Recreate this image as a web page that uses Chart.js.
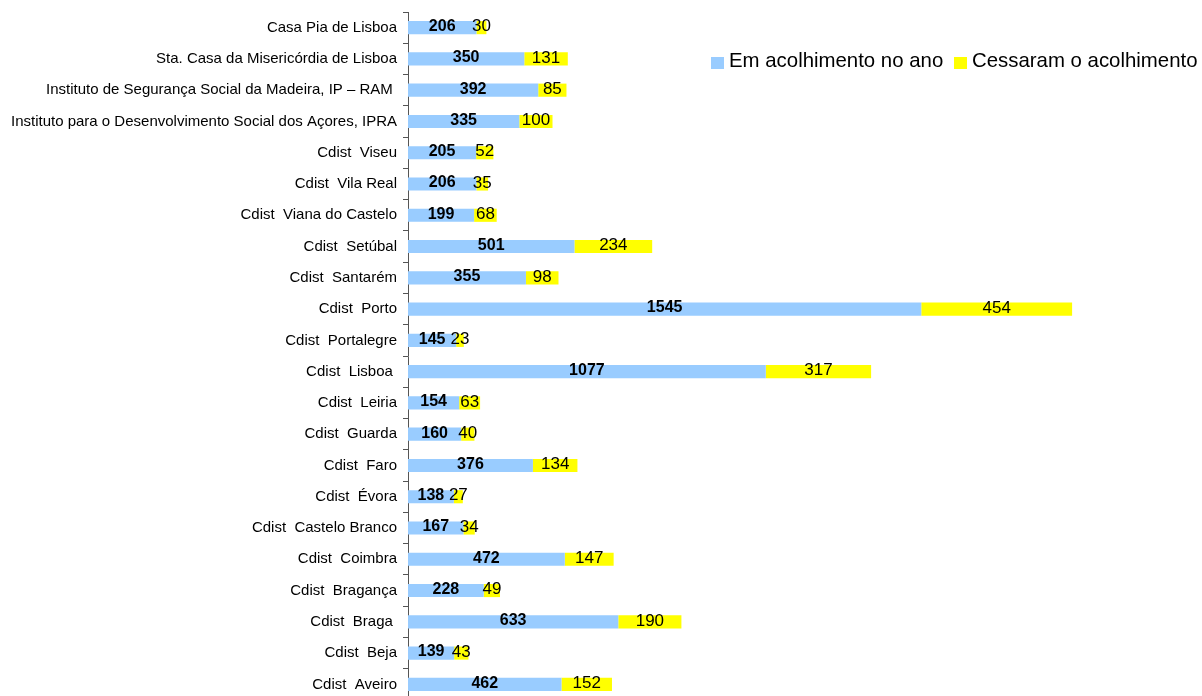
<!DOCTYPE html>
<html>
<head>
<meta charset="utf-8">
<script src="https://cdn.jsdelivr.net/npm/chart.js@4/dist/chart.umd.min.js"></script>
<style>
html,body{margin:0;padding:0;background:#fff;overflow:hidden;}
canvas{display:block;margin-top:-3px;}
</style>
</head>
<body>
<canvas id="c" width="1202" height="718"></canvas>
<script>
const categories = [
  "Casa Pia de Lisboa",
  "Sta. Casa da Misericórdia de Lisboa",
  "Instituto de Segurança Social da Madeira, IP – RAM ",
  "Instituto para o Desenvolvimento Social dos Açores, IPRA",
  "Cdist  Viseu",
  "Cdist  Vila Real",
  "Cdist  Viana do Castelo",
  "Cdist  Setúbal",
  "Cdist  Santarém",
  "Cdist  Porto",
  "Cdist  Portalegre",
  "Cdist  Lisboa ",
  "Cdist  Leiria",
  "Cdist  Guarda",
  "Cdist  Faro",
  "Cdist  Évora",
  "Cdist  Castelo Branco",
  "Cdist  Coimbra",
  "Cdist  Bragança",
  "Cdist  Braga ",
  "Cdist  Beja",
  "Cdist  Aveiro"
];
const emAcolhimento = [206,350,392,335,205,206,199,501,355,1545,145,1077,154,160,376,138,167,472,228,633,139,462];
const cessaram = [30,131,85,100,52,35,68,234,98,454,23,317,63,40,134,27,34,147,49,190,43,152];
const seriesNames = ["Em acolhimento no ano","Cessaram o acolhimento"];
const seriesColors = ["#99CCFF","#FFFF00"];

const labelPlugin = {
  id: 'valueLabels',
  afterDatasetsDraw(chart) {
    const ctx = chart.ctx;
    ctx.save();
    ctx.fillStyle = '#000';
    ctx.textAlign = 'center';
    ctx.textBaseline = 'middle';
    chart.data.datasets.forEach((ds, di) => {
      const meta = chart.getDatasetMeta(di);
      ctx.font = di === 0 ? 'bold 16px "Liberation Sans", Arial, sans-serif' : '17px "Liberation Sans", Arial, sans-serif';
      meta.data.forEach((el, i) => {
        const x = (el.base + el.x) / 2;
        ctx.fillText(String(ds.data[i]), x, el.y - 1);
      });
    });
    ctx.restore();
  }
};

const legendPlugin = {
  id: 'customLegend',
  afterDraw(chart) {
    const ctx = chart.ctx;
    ctx.save();
    ctx.font = '20.4px "Liberation Sans", Arial, sans-serif';
    ctx.textBaseline = 'alphabetic';
    ctx.textAlign = 'left';
    const items = [{bx:711, tx:729},{bx:954, tx:972}];
    chart.data.datasets.forEach((ds, i) => {
      const it = items[i];
      ctx.fillStyle = ds.backgroundColor;
      ctx.fillRect(it.bx, 57 + 3, 13, 12);
      ctx.fillStyle = '#000';
      ctx.fillText(ds.label, it.tx, 67 + 3);
    });
    ctx.restore();
  }
};

new Chart(document.getElementById('c'), {
  type: 'bar',
  data: {
    labels: categories,
    datasets: [
      {label: seriesNames[0], data: emAcolhimento, backgroundColor: seriesColors[0], categoryPercentage: 1, barPercentage: 0.42},
      {label: seriesNames[1], data: cessaram, backgroundColor: seriesColors[1], categoryPercentage: 1, barPercentage: 0.42}
    ]
  },
  options: {
    indexAxis: 'y',
    responsive: false,
    animation: false,
    layout: {padding: {top: 0, right: 0, bottom: 0, left: 0}},
    plugins: {legend: {display: false}, tooltip: {enabled: false}},
    scales: {
      x: {stacked: true, display: false, min: 0, max: 2390},
      y: {
        stacked: true,
        afterFit(s) { s.width = 408; },
        border: {display: true, color: '#555', width: 1},
        grid: {display: true, drawOnChartArea: false, drawTicks: true, tickLength: 5, color: '#555', offset: true},
        ticks: {color: '#000', padding: 6, font: {family: '"Liberation Sans", Arial, sans-serif', size: 15}, autoSkip: false}
      }
    }
  },
  plugins: [labelPlugin, legendPlugin]
});
</script>
</body>
</html>
